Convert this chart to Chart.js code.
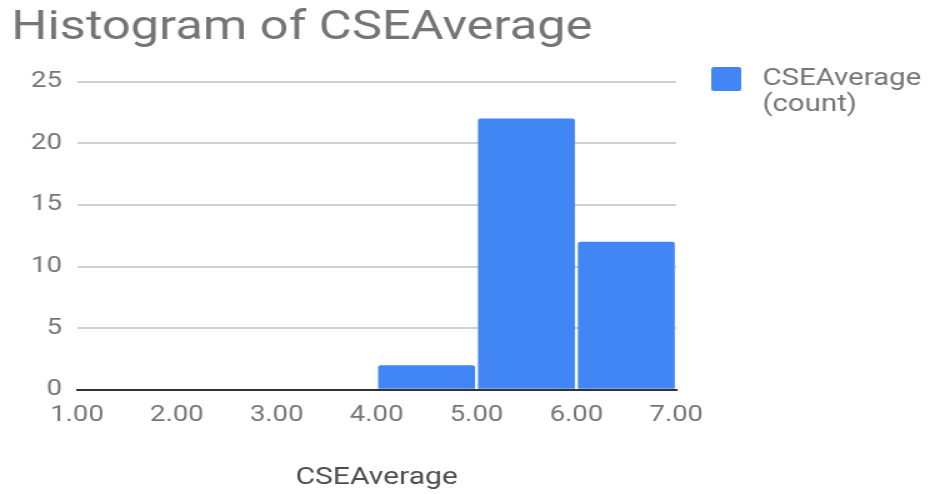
<!DOCTYPE html>
<html>
<head>
<meta charset="utf-8">
<script src="https://cdn.jsdelivr.net/npm/chart.js@4/dist/chart.umd.min.js"></script>
<style>
  html, body { margin: 0; padding: 0; background: #ffffff; overflow: hidden; }
  #wrap { width: 744px; height: 494px; transform: scaleX(1.25); transform-origin: 0 0; }
  canvas { display: block; }
</style>
</head>
<body>
<div id="wrap"><canvas id="chart" width="744" height="494"></canvas></div>
<script>
// Histogram bins of CSEAverage and their counts
const binLower = [1, 2, 3, 4, 5, 6];
const binUpper = [2, 3, 4, 5, 6, 7];
const counts = [0, 0, 0, 2, 22, 12];

// Axis tick values
const xTickValues = [1, 2, 3, 4, 5, 6, 7];
const yTickValues = [0, 5, 10, 15, 20, 25];

const chartTitle = 'Histogram of CSEAverage';
const xAxisTitle = 'CSEAverage';
const seriesLabel = ['CSEAverage', '(count)'];

const BLUE = '#4285F4';
const GREY = '#757575';

const points = binLower.map((lo, i) => ({ x: (lo + binUpper[i]) / 2, y: counts[i] }));

// Legend drawn to the right of the plot, with the label wrapped on two lines
const sideLegend = {
  id: 'sideLegend',
  afterDraw(chart) {
    const ctx = chart.ctx;
    const ds = chart.data.datasets[0];
    const x0 = chart.chartArea.right + 28;
    const y0 = 67;
    ctx.save();
    ctx.fillStyle = ds.backgroundColor;
    ctx.beginPath();
    ctx.roundRect(x0, y0, 24, 24, 2);
    ctx.fill();
    ctx.fillStyle = GREY;
    ctx.font = '23.5px Roboto';
    ctx.textBaseline = 'middle';
    ctx.textAlign = 'left';
    ds.label.forEach((line, i) => ctx.fillText(line, x0 + 41, y0 + 12 + i * 26));
    ctx.restore();
  }
};

new Chart(document.getElementById('chart'), {
  type: 'bar',
  data: {
    datasets: [{
      label: seriesLabel,
      data: points,
      backgroundColor: BLUE,
      borderRadius: 2,
      borderSkipped: 'bottom',
      categoryPercentage: 1.0,
      barPercentage: 0.97
    }]
  },
  options: {
    responsive: false,
    animation: false,
    layout: { padding: { left: 9, right: 203, top: 0, bottom: 2 } },
    plugins: {
      legend: { display: false },
      tooltip: { enabled: false },
      title: {
        display: true,
        text: chartTitle,
        align: 'start',
        color: GREY,
        font: { family: 'Roboto', size: 40.5, weight: 'normal' },
        padding: { top: 5, bottom: 28 }
      }
    },
    scales: {
      x: {
        type: 'linear',
        min: 1,
        max: 7,
        offset: false,
        z: 1,
        afterBuildTicks(scale) { scale.ticks = xTickValues.map(v => ({ value: v })); },
        ticks: {
          color: GREY,
          padding: 12,
          font: { family: 'Roboto', size: 22 },
          callback: v => Number(v).toFixed(2)
        },
        grid: { display: false, drawTicks: false, offset: false },
        border: { display: true, color: '#333333', width: 2 },
        title: {
          display: true,
          text: xAxisTitle,
          color: '#4d4d4d',
          font: { family: 'Roboto', size: 24 },
          padding: { top: 23, bottom: 0 }
        }
      },
      y: {
        min: 0,
        max: 25,
        afterBuildTicks(scale) { scale.ticks = yTickValues.map(v => ({ value: v })); },
        afterFit(scale) { scale.width = 52.6; },
        ticks: {
          color: GREY,
          padding: 12,
          font: { family: 'Roboto', size: 22 }
        },
        grid: { color: '#d0d0d0', lineWidth: 2, drawTicks: false },
        border: { display: false }
      }
    }
  },
  plugins: [sideLegend]
});
</script>
</body>
</html>
